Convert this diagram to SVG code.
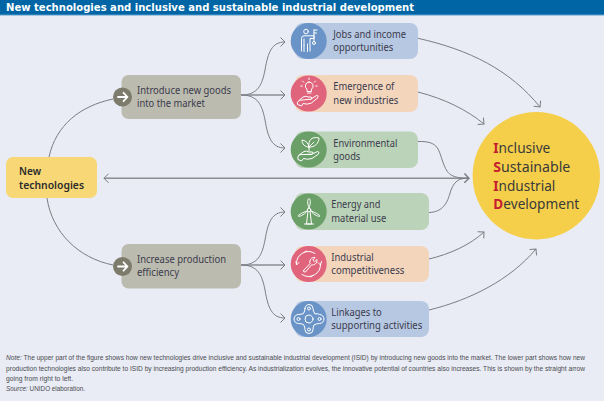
<svg xmlns="http://www.w3.org/2000/svg" width="604" height="401" viewBox="0 0 604 401">
<style>
text{font-family:"Noto Sans","Liberation Sans",sans-serif;font-size:10px;fill:#3b3b4d}
.hd{font-family:"DejaVu Sans",sans-serif;font-weight:700;font-size:10px;fill:#fff}
.nt{font-family:"Liberation Sans",sans-serif;font-size:6.500px;fill:#4a4b52}
.nb{font-weight:600;font-size:11px;fill:#2b2b2b}
.is{font-size:14.500px;fill:#3a3a3a}
.r{font-weight:700;fill:#c4202f}
.c{fill:none;stroke:#7b7d84;stroke-width:1}
.t{fill:none;stroke:#8b8d94;stroke-width:1.400}
.i{fill:none;stroke:#fff;stroke-width:1;stroke-linecap:round;stroke-linejoin:round}
.ar{fill:none;stroke:#fff;stroke-width:1.800;stroke-linecap:round;stroke-linejoin:round}
.bl{fill:#b6c8e2}.bc{fill:#6a94c8}.pk{fill:#f3d5bc}.pc{fill:#e0647c}.gn{fill:#bbd3b8}.gc{fill:#6b9f68}
.gb{fill:#bcbbaf}.gd{fill:#7d7c6c}
</style>
<defs>
<marker id="h" markerUnits="userSpaceOnUse" markerWidth="12" markerHeight="12" refX="9" refY="6" orient="auto-start-reverse" viewBox="0 0 12 12">
<path d="M4.500 1.500L9 6L4.500 10.500" fill="none" stroke="#7b7d84" stroke-width="1"/>
</marker>
</defs>
<rect width="604" height="401" fill="#e9ecf4"/>
<g id="header">
<rect width="604" height="15" fill="#0065a4"/>
<rect y="14.500" width="604" height="1" fill="#5c9dcb"/>
<text class="hd" x="6" y="10.500" textLength="408" lengthAdjust="spacingAndGlyphs">New technologies and inclusive and sustainable industrial development</text>
</g>
<g id="connectors">
<path class="c" d="M49 157C56 125 80 106 113 99"/>
<path class="c" d="M47 198C52 232 78 258 113 265"/>
<path class="c" d="M241 95C258 95 262 85 265 70C268 52 272 42 285 42" marker-end="url(#h)"/>
<path class="t" d="M241 95L285 95" marker-end="url(#h)"/>
<path class="c" d="M241 95C258 95 262 105 265 120C268 138 272 148 285 148" marker-end="url(#h)"/>
<path class="c" d="M241 265C258 265 262 255 265 240C268 222 272 212 285 212" marker-end="url(#h)"/>
<path class="t" d="M241 265L285 265" marker-end="url(#h)"/>
<path class="c" d="M241 265C258 265 262 275 265 290C268 308 272 318 285 318" marker-end="url(#h)"/>
<path class="t" d="M104 178.300L469 178.300" marker-start="url(#h)" marker-end="url(#h)"/>
<path class="c" d="M418 38.300C470 50 510 70 540 107" marker-end="url(#h)"/>
<path class="c" d="M418 92C445 99 467 110 484 124" marker-end="url(#h)"/>
<path class="c" d="M418 141.500C440 141 438 150 444 165C448 175 452 178 469 178.300" marker-end="url(#h)"/>
<path class="c" d="M429 212.500C445 212 448 200 451 190C455 180 460 178 469 178.300" marker-end="url(#h)"/>
<path class="c" d="M429 259C450 254 470 245 484 232" marker-end="url(#h)"/>
<path class="c" d="M429 310C470 300 510 280 536 249" marker-end="url(#h)"/>
</g>
<g id="new-technologies">
<rect x="6" y="157" width="91" height="41" rx="7" fill="#f8d776"/>
<text class="nb" x="19" y="175" textLength="22" lengthAdjust="spacingAndGlyphs">New</text>
<text class="nb" x="19" y="188.500" textLength="65" lengthAdjust="spacingAndGlyphs">technologies</text>
</g>
<g id="introduce">
<rect class="gb" x="121.500" y="75" width="119.500" height="44" rx="7"/>
<circle class="gd" cx="122.500" cy="97" r="9.500"/>
<path class="ar" d="M118 97H127M123.500 92.800L127.500 97L123.500 101.200"/>
<text x="137" y="94" textLength="94" lengthAdjust="spacingAndGlyphs">Introduce new goods</text>
<text x="137" y="107" textLength="68" lengthAdjust="spacingAndGlyphs">into the market</text>
</g>
<g id="increase">
<rect class="gb" x="121.500" y="244" width="119.500" height="44.500" rx="7"/>
<circle class="gd" cx="122.500" cy="266.500" r="9.500"/>
<path class="ar" d="M118 266.500H127M123.500 262.300L127.500 266.500L123.500 270.700"/>
<text x="137" y="263" textLength="89" lengthAdjust="spacingAndGlyphs">Increase production</text>
<text x="137" y="276" textLength="42" lengthAdjust="spacingAndGlyphs">efficiency</text>
</g>
<g id="jobs">
<rect class="bl" x="295" y="23" width="123" height="36" rx="8"/>
<circle class="bc" cx="308.700" cy="41" r="18"/>
<g class="i">
<circle cx="306" cy="31.500" r="2.300"/>
<path d="M301.500 51V38.500Q301.500 35.800 304 35.800H314V38.500H310V51M304 39V45.500M307.500 44V51.500M304 45.500V51.500"/>
<circle cx="314" cy="43" r="1.500"/>
<path d="M314 41.500V30M314 30H317M314 33H316.500"/>
</g>
<text x="333.300" y="38.300" textLength="72.700" lengthAdjust="spacingAndGlyphs">Jobs and income</text>
<text x="333.300" y="51" textLength="60" lengthAdjust="spacingAndGlyphs">opportunities</text>
</g>
<g id="emergence">
<rect class="pk" x="295" y="75" width="123" height="37" rx="8"/>
<circle class="pc" cx="308.700" cy="93.500" r="18"/>
<g class="i">
<path d="M309 82A4 4 0 0 1 311.500 89.200V91.500H307V89.200A4 4 0 0 1 309 82ZM307.500 93H311M309 78V79.500M302.500 81L303.700 82.200M315.500 81L314.300 82.200M300.800 86H302.300M315.800 86H317.200"/>
<path d="M299 100.500L303 97Q306 95.500 308 97H311Q312.800 98 311 99.500H307M311 99L316.500 95.500Q318.500 95 318 97.500L311.500 103Q307 105 303 103.500L301.500 106L297.500 104.500Q296.500 102 299 100.500Z"/>
</g>
<text x="333.300" y="90.300" textLength="61" lengthAdjust="spacingAndGlyphs">Emergence of</text>
<text x="333.300" y="104" textLength="65" lengthAdjust="spacingAndGlyphs">new industries</text>
</g>
<g id="environmental">
<rect class="gn" x="295" y="131.500" width="123" height="36.500" rx="8"/>
<circle class="gc" cx="308.700" cy="149.500" r="18"/>
<g class="i">
<path d="M309 147C308 141 311 136 319 138C319 143 315 147.500 309 147ZM309 147C308.500 143 306 140.500 302 140C302 144 304.500 147 309 147ZM309 147V150.500M309 147L314 142"/>
<path d="M299 155L304 151.500Q306.500 150.500 309 152H312.500Q314 153.500 312 154.500H308M312 154L317.500 151.500Q320 152 318.500 154L312 158.500Q307 160 303.500 158.500L301.500 161L298 159.500Q297 157 299 155Z"/>
</g>
<text x="333.300" y="147" textLength="64" lengthAdjust="spacingAndGlyphs">Environmental</text>
<text x="333.300" y="160" textLength="27" lengthAdjust="spacingAndGlyphs">goods</text>
</g>
<g id="energy">
<rect class="gn" x="295" y="193" width="134" height="37" rx="8"/>
<circle class="gc" cx="308.700" cy="211.500" r="18"/>
<g class="i">
<circle cx="309" cy="210" r="1.800"/>
<path d="M309 208C307 203 307.500 199 309 198.500C310.500 199 311 203 309 208ZM310.700 211C315 212 319.500 215 320 216C319 217 314.500 215.500 310.700 211ZM307.300 211C303 212 298.500 215 298 216C299 217 303.500 215.500 307.300 211Z"/>
<path d="M307.800 212.500L306.500 224H311.500L310.200 212.500M304.500 224H313.500"/>
</g>
<text x="331.300" y="208" textLength="49" lengthAdjust="spacingAndGlyphs">Energy and</text>
<text x="331.300" y="221.700" textLength="55" lengthAdjust="spacingAndGlyphs">material use</text>
</g>
<g id="competitiveness">
<rect class="pk" x="295" y="246" width="134" height="36" rx="8"/>
<circle class="pc" cx="308.700" cy="264" r="18"/>
<g class="i">
<path d="M296.500 264A12 12 0 0 1 315 253.500M320.500 264A12 12 0 0 1 302 274.500M296 261.500L296.500 265L299 262.500M318 262.500L320.500 265L321.500 261.500M304 252.500L306.500 251M313 275.500L310.500 277"/>
<path d="M303.500 270.500L310 263.500C309 260 311.500 257 315 257.500L312.800 260L314.500 261.700L317 259.500C317.500 263 314.500 265.500 311.500 264.800L305.500 272Q303 272.500 303.500 270.500Z"/>
</g>
<text x="331.300" y="261" textLength="42.500" lengthAdjust="spacingAndGlyphs">Industrial</text>
<text x="331.300" y="274" textLength="73" lengthAdjust="spacingAndGlyphs">competitiveness</text>
</g>
<g id="linkages">
<rect class="bl" x="295" y="301" width="134" height="36" rx="8"/>
<circle class="bc" cx="308.700" cy="319" r="18"/>
<g class="i">
<circle cx="309" cy="319" r="4"/>
<circle cx="309" cy="308.500" r="1.500"/>
<circle cx="309" cy="329.500" r="1.500"/>
<circle cx="298.500" cy="319" r="1.500"/>
<circle cx="319.500" cy="319" r="1.500"/>
<path d="M305 308.500A4 4 0 0 1 313 308.500Q313 311 315 314A5 5 0 0 1 319.500 314.500A4.500 4.500 0 0 1 319.500 323.500Q316.500 323.500 314 325Q313 327 313 329.500A4 4 0 0 1 305 329.500Q305 327 303.500 324.500Q301 323.500 298.500 323.500A4.500 4.500 0 0 1 298.500 314.500Q301 314.500 303.500 313.500Q305 311 305 308.500Z"/>
</g>
<text x="331.300" y="316" textLength="50.500" lengthAdjust="spacingAndGlyphs">Linkages to</text>
<text x="331.300" y="329" textLength="91" lengthAdjust="spacingAndGlyphs">supporting activities</text>
</g>
<g id="isid">
<circle cx="536.300" cy="175.700" r="63.700" fill="#f5cf4a"/>
<text class="is" x="493.300" y="153" textLength="57" lengthAdjust="spacingAndGlyphs"><tspan class="r">I</tspan>nclusive</text>
<text class="is" x="493.300" y="172" textLength="77" lengthAdjust="spacingAndGlyphs"><tspan class="r">S</tspan>ustainable</text>
<text class="is" x="493.300" y="190.500" textLength="62" lengthAdjust="spacingAndGlyphs"><tspan class="r">I</tspan>ndustrial</text>
<text class="is" x="493.300" y="209.300" textLength="86" lengthAdjust="spacingAndGlyphs"><tspan class="r">D</tspan>evelopment</text>
</g>
<g id="note">
<text class="nt" x="6" y="359.500" textLength="579" lengthAdjust="spacingAndGlyphs"><tspan font-style="italic">Note:</tspan> The upper part of the figure shows how new technologies drive inclusive and sustainable industrial development (ISID) by introducing new goods into the market. The lower part shows how new</text>
<text class="nt" x="6" y="370.500" textLength="579" lengthAdjust="spacingAndGlyphs">production technologies also contribute to ISID by increasing production efficiency. As industrialization evolves, the innovative potential of countries also increases. This is shown by the straight arrow</text>
<text class="nt" x="6" y="381" textLength="67" lengthAdjust="spacingAndGlyphs">going from right to left.</text>
<text class="nt" x="6" y="391" textLength="79" lengthAdjust="spacingAndGlyphs"><tspan font-style="italic">Source:</tspan> UNIDO elaboration.</text>
</g>
</svg>
